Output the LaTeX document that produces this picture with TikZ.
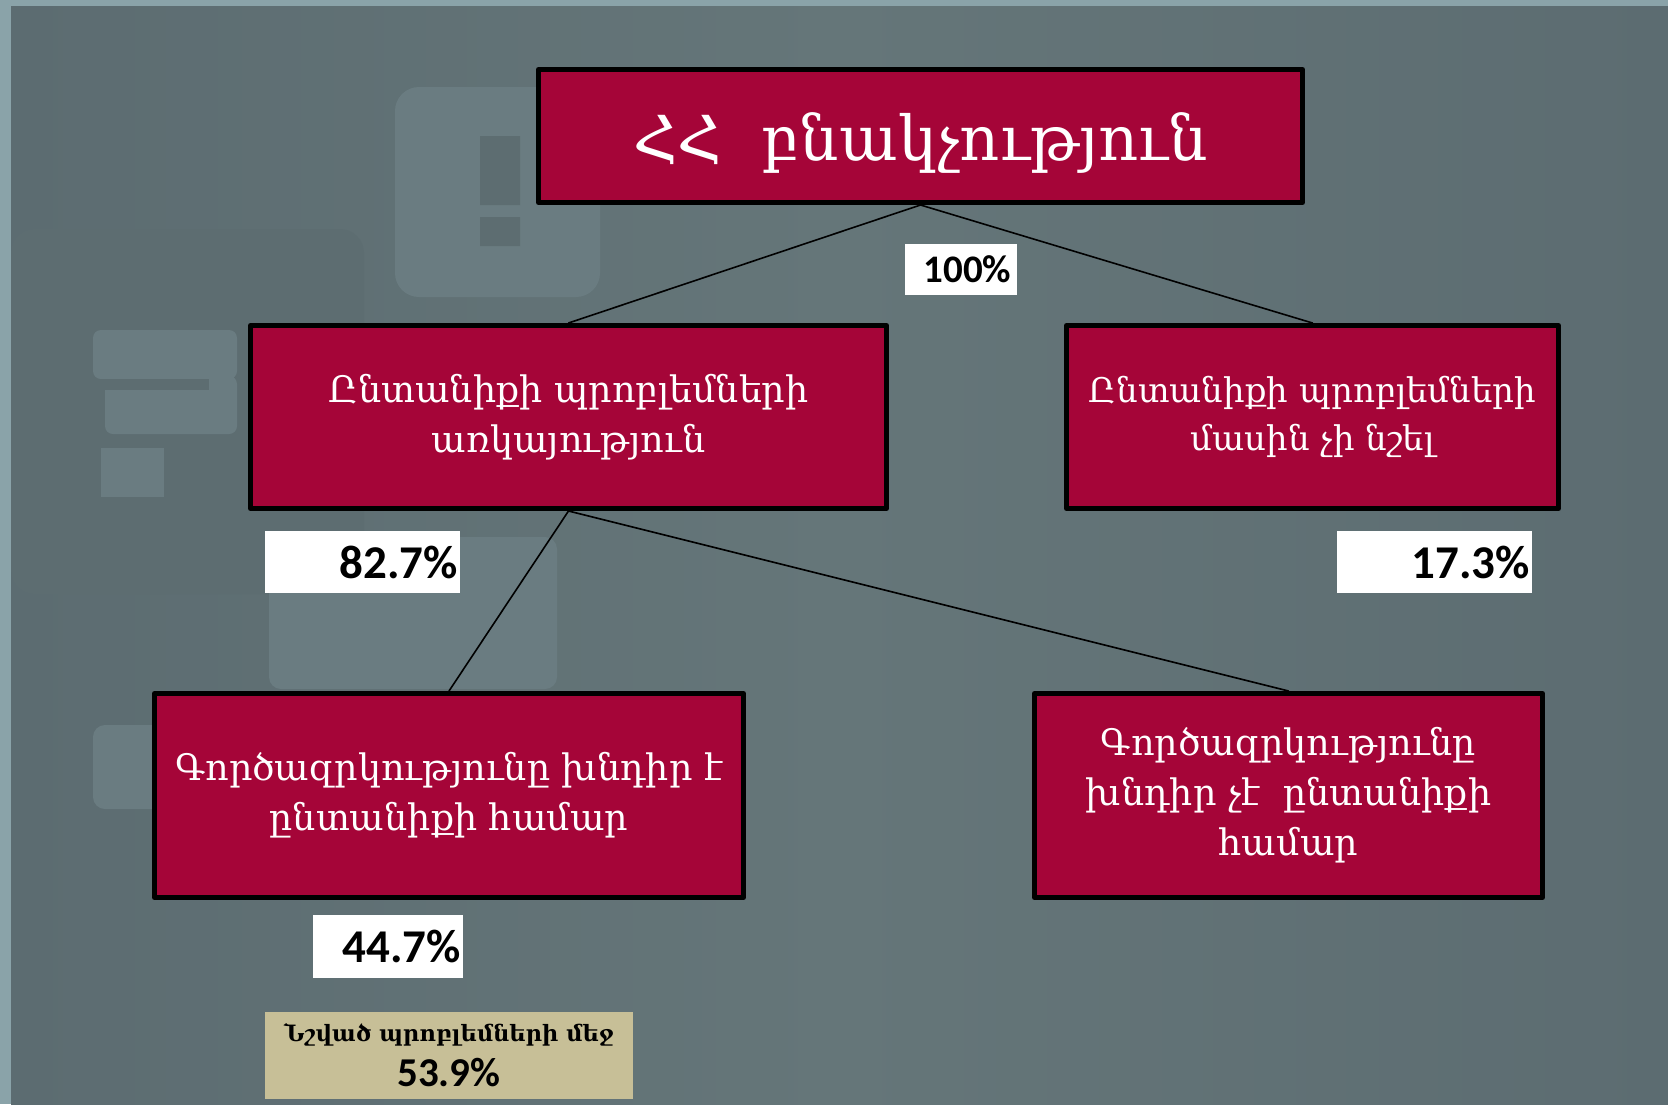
\documentclass[tikz,border=0pt]{standalone}
\usepackage{fontspec}
\newfontfamily\armfont{DejaVu Serif}
\newfontfamily\numfont{Carlito}
\definecolor{framegray}{HTML}{8AA3A9}
\definecolor{bgmid}{HTML}{657679}
\definecolor{bgside}{HTML}{5C6C71}
\definecolor{marklight}{HTML}{6A7C81}
\definecolor{markdark}{HTML}{5D6D71}
\definecolor{boxred}{HTML}{A50538}
\definecolor{notetan}{HTML}{C7BF97}
\begin{document}
\begin{tikzpicture}[x=1pt, y=-1pt, line cap=round, line join=round,
  box/.style={draw=black, line width=5pt, fill=boxred, text=white, align=center, inner sep=0pt,
    font=\armfont\fontsize{36.5}{50}\selectfont},
  pct/.style={fill=white, inner xsep=2pt, inner ysep=0pt, align=right,
    font=\numfont\bfseries\fontsize{47}{50}\selectfont},
  link/.style={line width=1.6pt}]
\useasboundingbox (0,0) rectangle (1668,1104);
\fill[framegray] (0,0) rectangle (1668,1104);
\shade[left color=bgside, right color=bgside, middle color=bgmid] (11,6) rectangle (1668,1104);
% faint marks behind the chart
\fill[markdark, rounded corners=24pt] (11,229) rectangle (364,594);
\fill[marklight, rounded corners=24pt] (395,87) rectangle (600,297);
\fill[markdark] (480,136) rectangle (520,205) (480,217) rectangle (520,246);
\fill[marklight, rounded corners=8pt] (93,330) rectangle (237,379) (105,376) rectangle (237,434);
\fill[markdark] (93,379) rectangle (209,390);
\fill[marklight] (101,448) rectangle (164,497);
\fill[marklight, rounded corners=12pt] (269,537) rectangle (557,689);
\fill[marklight, rounded corners=12pt] (93,725) rectangle (170,809);
% boxes
\node[box, minimum width=764, minimum height=133, text height=64pt, text depth=15pt,
  font=\armfont\fontsize{62}{66}\selectfont] (pop) at (920.5,136) {ՀՀ~~բնակչություն};
\node[box, minimum width=636, minimum height=183] (issue) at (568.5,417) {Ընտանիքի պրոբլեմների\\առկայություն};
\node[box, minimum width=492, minimum height=183, font=\armfont\fontsize{34}{48}\selectfont] (noissue) at (1312.5,417) {Ընտանիքի պրոբլեմների\\մասին չի նշել};
\node[box, minimum width=589, minimum height=204] (unemp) at (449,795.5) {Գործազրկությունը խնդիր է\\ընտանիքի համար};
\node[box, minimum width=508, minimum height=204] (nounemp) at (1288.5,795.5) {Գործազրկությունը\\խնդիր չէ~~ընտանիքի\\համար};
\draw[link] (pop.south)--(issue.north) (pop.south)--(noissue.north);
\draw[link] (issue.south)--(unemp.north) (issue.south)--(nounemp.north);
% shares
\node[pct, text width=108, minimum height=51, align=center, font=\numfont\bfseries\fontsize{39}{42}\selectfont] (p100) at (961,269.5) {~100\%};
\node[pct, text width=191, minimum height=62] (p827) at (362.5,562) {82.7\%};
\node[pct, text width=191, minimum height=62] (p173) at (1434.5,562) {17.3\%};
\node[pct, text width=146, minimum height=63] (p447) at (388,946.5) {44.7\%};
\node[fill=notetan, minimum width=368, minimum height=87, inner sep=0pt, align=center,
  font=\fontsize{24}{45}\selectfont] (note) at (449,1055.5)
  {{\armfont\bfseries\fontsize{22.5}{45}\selectfont Նշված պրոբլեմների մեջ}\\{\numfont\bfseries\fontsize{41}{45}\selectfont 53.9\%}};
\end{tikzpicture}
\end{document}
